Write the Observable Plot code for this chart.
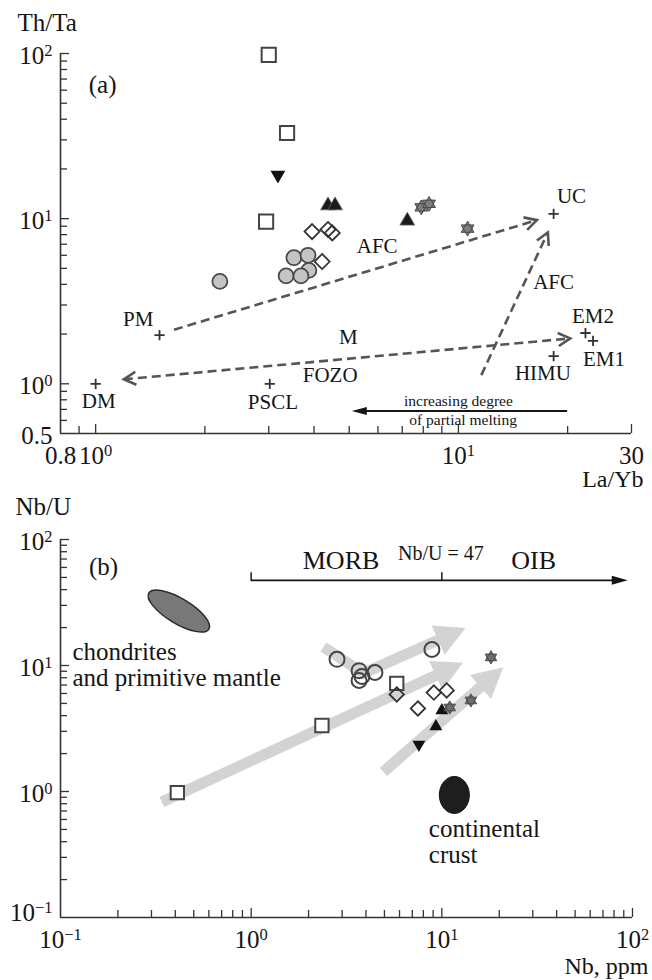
<!DOCTYPE html>
<html><head><meta charset="utf-8">
<script src="https://cdn.jsdelivr.net/npm/d3@7"></script>
<script src="https://cdn.jsdelivr.net/npm/@observablehq/plot@0.6"></script>
<style>
body{margin:0;background:#fff;}
#chart svg{display:block;overflow:visible;}
#chart svg, #chart text, #chart tspan{font-family:"Liberation Serif","Times New Roman",serif !important;}
</style></head><body><div id="chart"></div>
<script>
// ================= DATA: panel (a) Th/Ta vs La/Yb =================
const aSquares = [[3.0, 98], [3.37, 33], [2.95, 9.6]];
const aDownTriangles = [[3.18, 18.4]];
const aUpTriangles = [[4.37, 12.0], [4.57, 12.0], [7.23, 9.7]];
const aStars = [[7.9, 11.7], [8.3, 12.3], [10.6, 8.7]];
const aDiamonds = [[3.95, 8.35], [4.37, 8.6], [4.49, 8.2], [4.21, 5.5]];
const aCircles = [[2.2, 4.17], [3.52, 5.8], [3.85, 6.0], [3.87, 4.86], [3.35, 4.5], [3.68, 4.5]];
const aReservoirs = ["UC", "EM2", "EM1", "HIMU", "PM", "DM", "PSCL"];
const aReservoirX = [18.3, 22.4, 23.5, 18.3, 1.5, 1.0, 3.02];
const aReservoirY = [10.7, 2.03, 1.82, 1.47, 1.97, 1.0, 1.0];
const aLabels = ["UC", "EM2", "EM1", "HIMU", "PM", "DM", "PSCL", "FOZO", "M", "AFC", "AFC"];
const aLabelX = [20.5, 23.5, 25.2, 17.1, 1.31, 1.02, 3.08, 4.43, 4.97, 5.97, 18.3];
const aLabelY = [13.6, 2.57, 1.40, 1.15, 2.46, 0.78, 0.77, 1.12, 1.92, 6.78, 4.12];
const aDashedArrows = [
  {pts: [[1.65, 2.11], [16.5, 9.73]], heads: "end"},
  {pts: [[1.2, 1.057], [20.4, 1.87]], heads: "both"},
  {pts: [[11.6, 1.12], [17.7, 8.2]], heads: "end"}
];
const aMeltingArrow = [{pts: [[20.0, 0.68], [5.1, 0.68]], heads: "end"}];
const aMeltingText = ["increasing degree", "of partial melting"];
const aMeltingTextX = [10.0, 10.3];
const aMeltingTextY = [0.79, 0.60];
const aTag = ["(a)"], aTagX = [1.045], aTagY = [64.2];
const aXDomain = [0.8, 30], aYDomain = [0.5, 100];
const aXTicks = [0.8, 1, 10, 30], aXTickLabels = ["0.8", "10^0", "10^1", "30"];
const aXMajor = [1, 10, 30], aXMinor = [0.9, 2, 3, 4, 5, 6, 7, 8, 9, 20];
const aYTicks = [100, 10, 1, 0.5], aYTickLabels = ["10^2", "10^1", "10^0", "0.5"];
const aYMajor = [1, 10, 100], aYMinor = [0.6, 0.7, 0.8, 0.9, 2, 3, 4, 5, 6, 7, 8, 9, 20, 30, 40, 50, 60, 70, 80, 90];

// ================= DATA: panel (b) Nb/U vs Nb =================
const bCircles = [[2.82, 11.2], [8.87, 13.4], [3.68, 9.1], [3.81, 8.18], [3.68, 7.6], [4.46, 8.8]];
const bSquares = [[0.41, 0.98], [2.35, 3.34], [5.8, 7.2]];
const bDiamonds = [[5.8, 5.89], [7.49, 4.56], [9.08, 6.1], [10.6, 6.34]];
const bDownTriangles = [[7.58, 2.36]];
const bUpTriangles = [[9.31, 3.28], [10.0, 4.39]];
const bStars = [[18.1, 11.6], [14.2, 5.28], [11.0, 4.64]];
const bTrendArrows = [
  {pts: [[0.342, 0.818], [13.0, 10.4]], heads: "end"},
  {pts: [[2.41, 13.9], [3.9, 8.6], [13.4, 19.7]], heads: "end"},
  {pts: [[4.97, 1.42], [21.1, 9.6]], heads: "end"}
];
const bFieldNames = ["chondrites\nand primitive mantle", "continental\ncrust"];
const bFieldX = [0.42, 11.7], bFieldY = [26.8, 0.93];
const bFieldLabelX = [0.1156, 8.55], bFieldLabelY = [10.1, 0.397];
const bNbU = 47, bNbUFrom = 1, bNbUTo = 95, bNbUTicks = [1, 10];
const bNbUArrow = [{pts: [[bNbUFrom, bNbU], [bNbUTo, bNbU]], heads: "end"}];
const bRegionLabels = ["MORB", "OIB"], bRegionX = [2.96, 30.3], bRegionY = [68.1, 68.1];
const bNbULabel = ["Nb/U = 47"], bNbULabelX = [9.88], bNbULabelY = [77.4];
const bTag = ["(b)"], bTagX = [0.168], bTagY = [60];
const bXDomain = [0.1, 100], bYDomain = [0.1, 100];
const bXTicks = [0.1, 1, 10, 100], bXTickLabels = ["10^\u22121", "10^0", "10^1", "10^2"];
const bYTicks = [100, 10, 1], bYTickLabels = ["10^2", "10^1", "10^0"];
const bYTicksLow = [0.1], bYTickLabelsLow = ["10^\u22121"];
const decadeMinor = (lo, hi) => { const out = []; for (let d = lo; d < hi; d *= 10) for (let k = 2; k <= 9; k++) out.push(+(d * k).toPrecision(3)); return out; };
const bMajor = [1, 10, 100], bMinor = decadeMinor(0.1, 100);

// ================= helpers =================
const INK = "#151515", AX = "#333";
const triDown = {draw(ctx, size) { const s3 = Math.sqrt(3); const y = Math.sqrt(size / (s3 * 3)); ctx.moveTo(0, y * 2); ctx.lineTo(-s3 * y, -y); ctx.lineTo(s3 * y, -y); ctx.closePath(); }};
const triUp = {draw(ctx, size) { const s3 = Math.sqrt(3); const y = -Math.sqrt(size / (s3 * 3)); ctx.moveTo(0, y * 2); ctx.lineTo(-s3 * y, -y); ctx.lineTo(s3 * y, -y); ctx.closePath(); }};
const hexagram = {draw(ctx, size) {
  const R = Math.sqrt(size) * 0.72;
  for (const off of [-Math.PI / 2, Math.PI / 2]) {
    for (let k = 0; k < 3; k++) { const a = off + k * 2 * Math.PI / 3; const x = R * Math.cos(a), y = R * Math.sin(a); k ? ctx.lineTo(x, y) : ctx.moveTo(x, y); }
    ctx.closePath();
  }
}};

function headGeom(tip, prev, L, W) {
  const dx = tip[0] - prev[0], dy = tip[1] - prev[1];
  const len = Math.hypot(dx, dy) || 1, ux = dx / len, uy = dy / len;
  const bx = tip[0] - ux * L, by = tip[1] - uy * L;
  return {base: [bx, by], w1: [bx - uy * W, by + ux * W], w2: [bx + uy * W, by - ux * W]};
}
function arrowLayer(list, opt) {
  return (index, scales) => {
    const g = d3.create("svg:g");
    for (const a of list) {
      const P = a.pts.map(([x, y]) => [scales.x(x), scales.y(y)]);
      const shaft = P.map((p) => p.slice());
      const ends = [[P.length - 1, P.length - 2]];
      if (a.heads === "both") ends.push([0, 1]);
      const heads = ends.map(([i, j]) => {
        const h = headGeom(P[i], P[j], opt.headLength, opt.headWidth);
        if (opt.filled) shaft[i] = [(h.base[0] * 2 + P[i][0]) / 3, (h.base[1] * 2 + P[i][1]) / 3];
        return [P[i], h];
      });
      g.append("path").attr("d", d3.line()(shaft)).attr("fill", "none")
        .attr("stroke", opt.stroke).attr("stroke-width", opt.width)
        .attr("stroke-dasharray", opt.dash || null).attr("stroke-linejoin", "miter");
      for (const [tip, h] of heads) {
        const d = `M${h.w1}L${tip}L${h.w2}` + (opt.filled ? "Z" : "");
        const p = g.append("path").attr("d", d);
        if (opt.filled) p.attr("fill", opt.stroke).attr("stroke", "none");
        else p.attr("fill", "none").attr("stroke", opt.stroke).attr("stroke-width", opt.width).attr("stroke-linejoin", "miter");
      }
    }
    return g.node();
  };
}
function fieldLayer(xs, ys, styles) {
  return (index, scales) => {
    const g = d3.create("svg:g");
    xs.forEach((x, i) => {
      const s = styles[i];
      g.append("ellipse").attr("rx", s.rx).attr("ry", s.ry)
        .attr("transform", `translate(${scales.x(x)},${scales.y(ys[i])}) rotate(${s.rotate})`)
        .attr("fill", s.fill).attr("stroke", s.stroke).attr("stroke-width", s.sw);
    });
    return g.node();
  };
}
function supify(svg) {
  d3.select(svg).selectAll("text").each(function () {
    const t = this.textContent;
    const m = t.match(/^([^\^]*)\^(.+)$/);
    if (!m) return;
    const sel = d3.select(this); sel.text(null);
    sel.append("tspan").text(m[1]);
    sel.append("tspan").attr("dy", "-0.48em").attr("font-size", "0.66em").text(m[2]);
  });
  return svg;
}
function axisMarks(xd, yd, xMaj, xMin, yMaj, yMin) {
  return [
    Plot.ruleY([yd[0]], {x1: xd[0], x2: xd[1], stroke: AX, strokeWidth: 1.6}),
    Plot.ruleX([xd[0]], {y1: yd[0], y2: yd[1], stroke: AX, strokeWidth: 1.6}),
    Plot.ruleX(xMin, {x: (d) => d, y1: () => yd[0], y2: () => yd[0], insetBottom: 7, stroke: AX, strokeWidth: 1.3}),
    Plot.ruleX(xMaj, {x: (d) => d, y1: () => yd[0], y2: () => yd[0], insetBottom: 9, stroke: AX, strokeWidth: 1.3}),
    Plot.ruleY(yMin, {y: (d) => d, x1: () => xd[0], x2: () => xd[0], insetRight: -7, stroke: AX, strokeWidth: 1.3}),
    Plot.ruleY(yMaj, {y: (d) => d, x1: () => xd[0], x2: () => xd[0], insetRight: -9, stroke: AX, strokeWidth: 1.3})
  ];
}
const FONT = "Liberation Serif";
const TICK = 25, TITLE = 25;

// ================= Panel (a) =================
const plotA = Plot.plot({
  width: 652, height: 490,
  marginLeft: 60, marginRight: 21, marginTop: 53, marginBottom: 57,
  style: {fontFamily: FONT, background: "transparent", color: INK},
  x: {type: "log", domain: aXDomain, axis: null},
  y: {type: "log", domain: aYDomain, axis: null},
  marks: [
    ...axisMarks(aXDomain, aYDomain, aXMajor, aXMinor, aYMajor, aYMinor),
    Plot.text(aXTicks, {x: (d) => d, y: () => aYDomain[0], text: (d, i) => aXTickLabels[i], dy: 22, fontSize: TICK, fill: INK}),
    Plot.text(aYTicks, {x: () => aXDomain[0], y: (d) => d, text: (d, i) => aYTickLabels[i], dx: -8, dy: 2, textAnchor: "end", fontSize: TICK, fill: INK}),
    Plot.text(["Th/Ta"], {frameAnchor: "top-left", lineAnchor: "middle", dx: -43, dy: -31, textAnchor: "start", fontSize: TITLE, fill: INK}),
    Plot.text(["La/Yb"], {frameAnchor: "bottom-right", lineAnchor: "middle", dx: 12, dy: 46, textAnchor: "end", fontSize: 24, fill: INK}),
    arrowLayer(aDashedArrows, {stroke: "#555", width: 2.6, dash: "9,5", headLength: 12, headWidth: 6.5, filled: false}),
    arrowLayer(aMeltingArrow, {stroke: INK, width: 2, headLength: 15, headWidth: 4, filled: true}),
    Plot.text(aMeltingText, {x: (d, i) => aMeltingTextX[i], y: (d, i) => aMeltingTextY[i], fontSize: 15.5, fill: INK}),
    Plot.dot(aReservoirs, {x: (d, i) => aReservoirX[i], y: (d, i) => aReservoirY[i], symbol: "plus", r: 3.4, stroke: "#333", strokeWidth: 1.8}),
    Plot.text(aLabels, {x: (d, i) => aLabelX[i], y: (d, i) => aLabelY[i], fontSize: 21, fill: INK}),
    Plot.text(aTag, {x: (d, i) => aTagX[i], y: (d, i) => aTagY[i], fontSize: 25, fill: INK}),
    Plot.dot(aSquares, {x: "0", y: "1", symbol: "square", r: 8, fill: "white", stroke: "#444", strokeWidth: 2}),
    Plot.dot(aDownTriangles, {x: "0", y: "1", symbol: triDown, r: 5.5, fill: "#111", stroke: "none"}),
    Plot.dot(aUpTriangles, {x: "0", y: "1", symbol: triUp, r: 5.5, fill: "#1a1a1a", stroke: "#666", strokeWidth: 0.8}),
    Plot.dot(aStars, {x: "0", y: "1", symbol: hexagram, r: 5.8, fill: "#7d7d7d", stroke: "#4a4a4a", strokeWidth: 1}),
    Plot.dot(aDiamonds, {x: "0", y: "1", symbol: "diamond2", r: 6.8, fill: "none", stroke: "#333", strokeWidth: 1.8}),
    Plot.dot(aCircles, {x: "0", y: "1", r: 7.5, fill: "#c4c4c4", stroke: "#4a4a4a", strokeWidth: 1.8})
  ]
});

// ================= Panel (b) =================
const plotB = Plot.plot({
  width: 652, height: 490,
  marginLeft: 60, marginRight: 20, marginTop: 49, marginBottom: 63,
  style: {fontFamily: FONT, background: "transparent", color: INK},
  x: {type: "log", domain: bXDomain, axis: null},
  y: {type: "log", domain: bYDomain, axis: null},
  marks: [
    ...axisMarks(bXDomain, bYDomain, bMajor, bMinor, bMajor, bMinor),
    Plot.text(bXTicks, {x: (d) => d, y: () => bYDomain[0], text: (d, i) => bXTickLabels[i], dy: 22, fontSize: TICK, fill: INK}),
    Plot.text(bYTicks, {x: () => bXDomain[0], y: (d) => d, text: (d, i) => bYTickLabels[i], dx: -8, dy: 2, textAnchor: "end", fontSize: TICK, fill: INK}),
    Plot.text(bYTicksLow, {x: () => bXDomain[0], y: (d) => d, text: (d, i) => bYTickLabelsLow[i], dx: -8, dy: -5, textAnchor: "end", fontSize: TICK, fill: INK}),
    Plot.text(["Nb/U"], {frameAnchor: "top-left", lineAnchor: "middle", dx: -45, dy: -33, textAnchor: "start", fontSize: TITLE, fill: INK}),
    Plot.text(["Nb, ppm"], {frameAnchor: "bottom-right", lineAnchor: "middle", dx: 16, dy: 49, textAnchor: "end", fontSize: 24, fill: INK}),
    arrowLayer(bTrendArrows, {stroke: "#d3d3d3", width: 11, headLength: 30, headWidth: 16, filled: true}),
    arrowLayer(bNbUArrow, {stroke: INK, width: 1.8, headLength: 16, headWidth: 4.5, filled: true}),
    Plot.ruleX(bNbUTicks, {x: (d) => d, y1: () => bNbU, y2: () => bNbU, insetBottom: 8, stroke: INK, strokeWidth: 1.5}),
    Plot.text(bRegionLabels, {x: (d, i) => bRegionX[i], y: (d, i) => bRegionY[i], fontSize: 26, fill: INK}),
    Plot.text(bNbULabel, {x: (d, i) => bNbULabelX[i], y: (d, i) => bNbULabelY[i], fontSize: 20, fill: INK}),
    Plot.text(bTag, {x: (d, i) => bTagX[i], y: (d, i) => bTagY[i], fontSize: 25, fill: INK}),
    fieldLayer(bFieldX, bFieldY, [
      {rx: 35, ry: 12.5, rotate: 31, fill: "#787878", stroke: "#2a2a2a", sw: 1.5},
      {rx: 15, ry: 18.5, rotate: 0, fill: "#1e1e1e", stroke: "#111", sw: 1}
    ]),
    Plot.text(bFieldNames, {x: (d, i) => bFieldLabelX[i], y: (d, i) => bFieldLabelY[i], textAnchor: "start", lineHeight: 1.04, fontSize: 25, fill: INK}),
    Plot.dot(bSquares, {x: "0", y: "1", symbol: "square", r: 7.5, fill: "white", stroke: "#444", strokeWidth: 2}),
    Plot.dot(bDiamonds, {x: "0", y: "1", symbol: "diamond2", r: 6.5, fill: "none", stroke: "#333", strokeWidth: 1.8}),
    Plot.dot(bCircles, {x: "0", y: "1", r: 7.5, fill: "none", stroke: "#444", strokeWidth: 2}),
    Plot.dot(bDownTriangles, {x: "0", y: "1", symbol: triDown, r: 4.8, fill: "#111", stroke: "none"}),
    Plot.dot(bUpTriangles, {x: "0", y: "1", symbol: triUp, r: 4.8, fill: "#111", stroke: "none"}),
    Plot.dot(bStars, {x: "0", y: "1", symbol: hexagram, r: 5.2, fill: "#6f6f6f", stroke: "#4a4a4a", strokeWidth: 1})
  ]
});

const chart = document.getElementById("chart");
chart.append(supify(plotA), supify(plotB));
</script>
</body></html>
